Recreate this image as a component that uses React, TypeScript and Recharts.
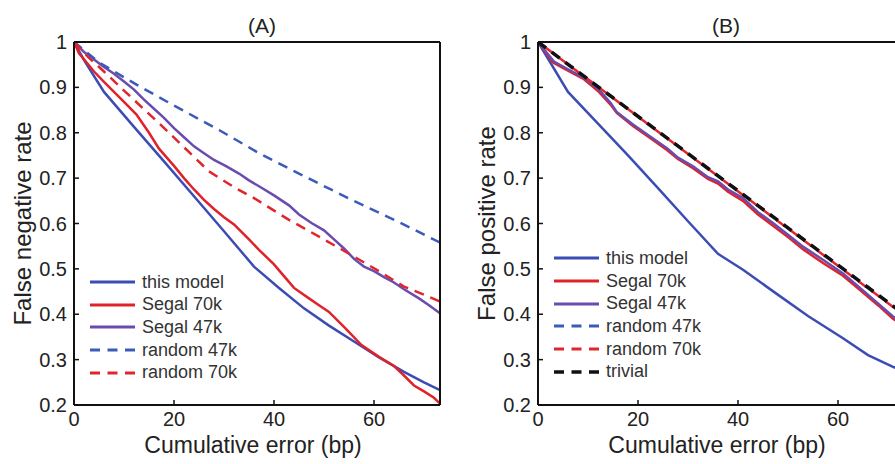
import { LineChart, Line, XAxis, YAxis } from "recharts";

const font = '"Liberation Sans", Arial, Helvetica, sans-serif';

const xTicks = [0, 20, 40, 60];
const yTicks = [0.2, 0.3, 0.4, 0.5, 0.6, 0.7, 0.8, 0.9, 1];
const xMax = 73.2;

// (A) false negative rate
const thisModelA = [
  [0, 1], [2, 0.96], [6, 0.89], [12, 0.813], [18, 0.737], [24, 0.66], [30, 0.583],
  [36, 0.505], [41, 0.458], [46, 0.413], [51, 0.375], [56, 0.34], [61, 0.305],
  [66, 0.273], [70, 0.25], [73.2, 0.233],
];
const segal70kA = [
  [0, 1], [1, 0.975], [2, 0.962], [4, 0.935], [6, 0.912], [8, 0.89], [10, 0.868],
  [12.5, 0.84], [15, 0.8], [17, 0.765], [20, 0.727], [22, 0.7], [24, 0.675], [26, 0.652],
  [28, 0.632], [30, 0.614], [32, 0.598], [35, 0.565], [37, 0.542], [40, 0.51], [42, 0.484],
  [44, 0.458], [47, 0.435], [49, 0.42], [51, 0.405], [54, 0.372], [57.5, 0.332],
  [61, 0.306], [64, 0.286], [66, 0.265], [68, 0.243], [70, 0.23], [72, 0.216], [73.2, 0.203],
];
const segal47kA = [
  [0, 1], [2, 0.978], [3.2, 0.968], [6, 0.945], [8, 0.93], [10, 0.913], [12, 0.895],
  [14, 0.873], [16, 0.853], [18, 0.833], [20, 0.81], [22, 0.79], [24, 0.77], [26, 0.755],
  [28, 0.74], [30.5, 0.726], [33, 0.71], [35, 0.695], [37, 0.682], [40, 0.662],
  [43, 0.64], [45, 0.62], [47.5, 0.601], [50, 0.585], [52, 0.565], [54, 0.545],
  [56, 0.522], [58, 0.505], [60, 0.495], [62, 0.482], [64, 0.47], [66, 0.455],
  [69, 0.435], [71, 0.42], [73.2, 0.402],
];
const random47kA = [
  [0, 1], [5, 0.955], [12.5, 0.906], [20, 0.86], [29, 0.806], [37, 0.755], [45, 0.71],
  [55, 0.655], [65, 0.603], [73.2, 0.558],
];
const random70kA = [
  [0, 1], [3, 0.965], [6, 0.935], [10, 0.893], [17, 0.821], [22, 0.768], [27, 0.715],
  [32, 0.68], [36, 0.656], [43, 0.608], [50, 0.565], [56, 0.527], [61, 0.495],
  [66, 0.461], [70, 0.443], [73.2, 0.428],
];

// (B) false positive rate
const thisModelB = [
  [0, 1], [6, 0.89], [12, 0.82], [18, 0.75], [24, 0.678], [30, 0.605], [36, 0.533],
  [41, 0.498], [47.6, 0.446], [54, 0.396], [61, 0.347], [66, 0.31], [71, 0.284],
  [73.2, 0.274],
];
const segal70kB = [
  [0, 1], [3, 0.955], [6, 0.937], [9.2, 0.918], [12, 0.892], [14.5, 0.862], [15.8, 0.843],
  [19, 0.815], [22, 0.792], [25.8, 0.762], [28, 0.742], [31, 0.722], [34, 0.698],
  [36, 0.688], [38, 0.67], [41, 0.65], [44, 0.62], [47, 0.595], [50, 0.57], [53, 0.543],
  [57, 0.513], [61, 0.485], [64, 0.457], [68, 0.42], [71, 0.39], [73.2, 0.376],
];
const segal47kB = [
  [0, 1], [3.2, 0.957], [6, 0.94], [9.2, 0.921], [12, 0.897], [14.5, 0.866], [15.8, 0.845],
  [19, 0.818], [22, 0.795], [25.8, 0.766], [28, 0.745], [31, 0.726], [34, 0.702],
  [36, 0.693], [38, 0.675], [41, 0.656], [44, 0.625], [47, 0.601], [50, 0.575],
  [53, 0.549], [57, 0.52], [61, 0.49], [64, 0.462], [68, 0.424], [71, 0.395], [73.2, 0.38],
];
const random47kB = [[0, 1], [73.2, 0.401]];
const random70kB = [[0, 1], [73.2, 0.398]];
const trivialB = [[0, 1], [73.2, 0.4]];

const BLUE = "#3b4db5";
const RED = "#e0222a";
const PURPLE = "#6a4cae";
const BLUE_DASH = "#3c5ab8";
const RED_DASH = "#e0262c";
const BLACK = "#111";

type Series = {
  name: string;
  color: string;
  points: number[][];
  dash?: string;
  width?: number;
  offset?: number;
};

const seriesA: Series[] = [
  { name: "this model", color: BLUE, points: thisModelA },
  { name: "Segal 70k", color: RED, points: segal70kA },
  { name: "Segal 47k", color: PURPLE, points: segal47kA },
  { name: "random 47k", color: BLUE_DASH, points: random47kA, dash: "10 7" },
  { name: "random 70k", color: RED_DASH, points: random70kA, dash: "10 7" },
];

const seriesB: Series[] = [
  { name: "this model", color: BLUE, points: thisModelB },
  { name: "Segal 70k", color: RED, points: segal70kB },
  { name: "Segal 47k", color: PURPLE, points: segal47kB },
  { name: "random 47k", color: BLUE_DASH, points: random47kB, dash: "10 7" },
  { name: "random 70k", color: RED_DASH, points: random70kB, dash: "10 7", offset: 8.5 },
  { name: "trivial", color: BLACK, points: trivialB, dash: "10 7", width: 3.5 },
];

const toXY = (arr: number[][]) => arr.map(([x, y]) => ({ x, y }));

function LegendBox({ items, left, top }: { items: Series[]; left: number; top: number }) {
  return (
    <div style={{ position: "absolute", left, top, fontSize: 18, color: "#333" }}>
      {items.map((s) => (
        <div key={s.name} style={{ display: "flex", alignItems: "center", height: 22.7 }}>
          <svg width={45} height={6} style={{ marginRight: 7 }}>
            <line x1={0} y1={3} x2={45} y2={3} stroke={s.color} strokeWidth={s.width ? 3.5 : 2.8}
              strokeDasharray={s.dash ? "10 7.5" : undefined} />
          </svg>
          <span style={{ lineHeight: "22.7px", whiteSpace: "nowrap" }}>{s.name}</span>
        </div>
      ))}
    </div>
  );
}

const axisLine = { stroke: "#111", strokeWidth: 2 };
const tickLine = { stroke: "#111", strokeWidth: 1.5 };
const tickStyle = { fill: "#222", fontSize: 20, fontFamily: font };

function Panel({ left, title, yLabel, series, legendTop }: {
  left: number; title: string; yLabel: string; series: Series[]; legendTop: number;
}) {
  return (
    <div style={{ position: "absolute", left, top: 0, width: 460, height: 464 }}>
      <div style={{ position: "absolute", left: 79, top: 15, width: 366, textAlign: "center", fontSize: 21, lineHeight: "21px", color: "#222" }}>
        {title}
      </div>
      <LineChart width={460} height={464} margin={{ top: 41, right: 19, bottom: 0, left: 0 }}>
        <XAxis xAxisId="top" orientation="top" type="number" domain={[0, xMax]} ticks={xTicks}
          allowDataOverflow height={1} tick={false} tickSize={-5} axisLine={axisLine} tickLine={tickLine} />
        <XAxis dataKey="x" type="number" domain={[0, xMax]} ticks={xTicks} allowDataOverflow height={59}
          tickSize={-5} tickMargin={12} axisLine={axisLine} tickLine={tickLine} tick={tickStyle}
          label={{ value: "Cumulative error (bp)", position: "insideBottom", offset: 11, dx: -4, fill: "#222", fontSize: 23, style: { fontSize: 23 } }} />
        <YAxis type="number" domain={[0.2, 1]} ticks={yTicks} allowDataOverflow width={74}
          tickSize={-5} tickMargin={12} axisLine={axisLine} tickLine={tickLine} tick={tickStyle}
          label={{ value: yLabel, angle: -90, position: "insideLeft", offset: 22, fill: "#222", fontSize: 24, style: { textAnchor: "middle", fontSize: 24 } }} />
        <YAxis yAxisId="right" orientation="right" type="number" domain={[0.2, 1]} ticks={yTicks}
          allowDataOverflow width={1} tick={false} tickSize={-5} axisLine={axisLine} tickLine={tickLine} />
        {series.map((s) => (
          <Line key={s.name} data={toXY(s.points)} dataKey="y" type="linear" stroke={s.color}
            strokeWidth={s.width ?? 2.5} strokeDasharray={s.dash} strokeDashoffset={s.offset}
            dot={false} activeDot={false} isAnimationActive={false} />
        ))}
        {/* invisible series so the top/right box axes get a domain */}
        <Line xAxisId="top" yAxisId="right" data={toXY(series[0].points)} dataKey="y" stroke="none"
          dot={false} activeDot={false} legendType="none" isAnimationActive={false} />
      </LineChart>
      <LegendBox items={series} left={90} top={legendTop} />
    </div>
  );
}

export default function App() {
  return (
    <div style={{ position: "absolute", left: 0, top: 0, width: 895, height: 464, overflow: "hidden", background: "#fff", fontFamily: font }}>
      <Panel left={0} title="(A)" yLabel="False negative rate" series={seriesA} legendTop={282 - 11.35} />
      <Panel left={464} title="(B)" yLabel="False positive rate" series={seriesB} legendTop={258.3 - 11.35} />
    </div>
  );
}
